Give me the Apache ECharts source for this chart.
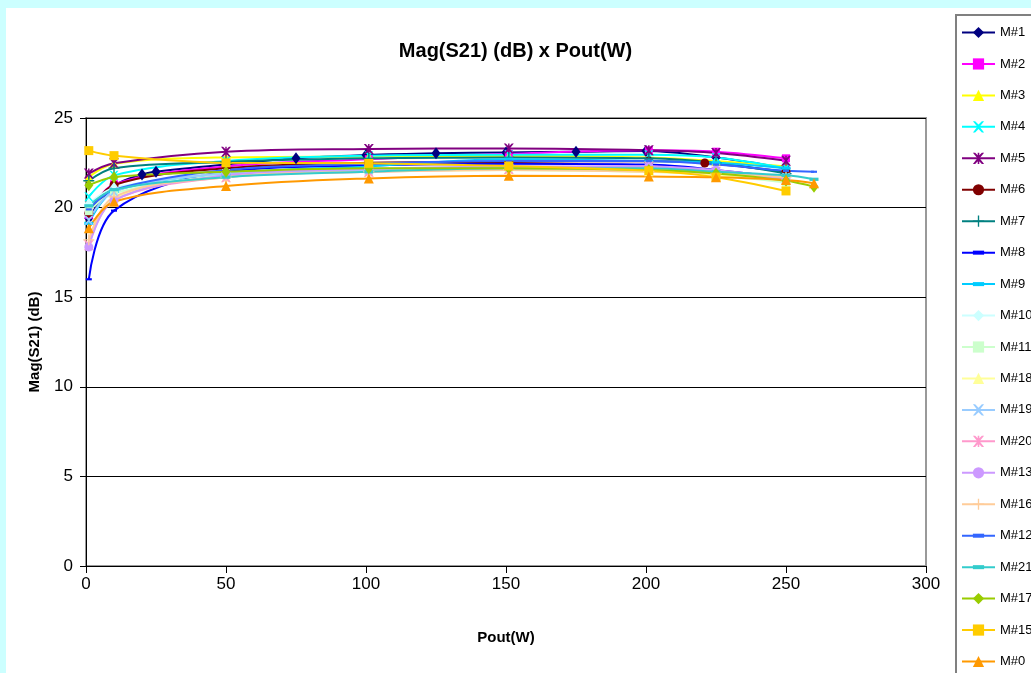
<!DOCTYPE html>
<html>
<head>
<meta charset="utf-8">
<script src="https://cdn.jsdelivr.net/npm/echarts@6/dist/echarts.min.js"></script>
<style>
  html, body { margin: 0; padding: 0; background: #ccffff; }
  #chart { width: 1031px; height: 673px; }
</style>
</head>
<body>
<div id="chart"></div>
<script>
// Output power points (W) used by the measurement sweeps
const poutStd  = [1, 10, 50, 101, 151, 201, 225, 250];
const poutM1   = [1, 10, 20, 25, 50, 75, 100, 125, 150, 175, 200, 225, 250];
const poutM6   = [1, 10, 50, 101, 151, 201, 221, 250];
const poutLong = [1, 10, 50, 101, 151, 201, 225, 250, 260];

// Gain |S21| in dB for each device
const gM1  = [19.4, 21.2, 21.85, 22.0, 22.4, 22.75, 22.93, 23.03, 23.08, 23.12, 23.16, 22.8, 22.2];
const gM2  = [19.6, 21.3, 22.3, 22.7, 23.0, 23.2, 23.12, 22.75];
const gM3  = [21.7, 22.45, 22.8, 22.85, 22.9, 22.8, 22.6, 22.3];
const gM4  = [20.6, 21.8, 22.6, 22.9, 22.95, 22.95, 22.8, 22.2];
const gM5  = [21.9, 22.47, 23.12, 23.27, 23.3, 23.2, 23.05, 22.62];
const gM6  = [19.68, 21.26, 22.2, 22.5, 22.55, 22.6, 22.49, 22.0];
const gM7  = [21.5, 22.2, 22.55, 22.75, 22.8, 22.75, 22.5, 21.9];
const gM8  = [16.0, 19.83, 22.0, 22.35, 22.45, 22.4, 22.1, 21.65];
const gM9  = [19.12, 20.9, 21.9, 22.3, 22.7, 22.6, 22.5, 22.2];
const gM10 = [20.2, 21.1, 21.9, 22.1, 22.2, 22.1, 21.9, 21.6];
const gM11 = [19.8, 20.8, 21.8, 22.05, 22.1, 22.0, 21.8, 21.4];
const gM18 = [18.0, 20.5, 21.7, 22.0, 22.1, 22.0, 21.8, 21.5];
const gM19 = [19.3, 20.9, 21.9, 22.1, 22.3, 22.2, 22.0, 21.7];
const gM20 = [17.9, 20.4, 21.7, 22.0, 22.15, 22.3, 22.0, 21.6];
const gM13 = [17.8, 20.4, 21.8, 22.15, 22.3, 22.3, 22.1, 21.6];
const gM16 = [18.2, 20.6, 21.7, 22.0, 22.1, 22.0, 21.9, 21.7];
const gM12 = [19.9, 21.0, 22.1, 22.45, 22.6, 22.6, 22.4, 22.05, 22.0];
const gM21 = [20.1, 21.0, 21.7, 22.0, 22.2, 22.2, 22.0, 21.8, 21.58];
const gM17 = [21.25, 21.7, 22.0, 22.2, 22.2, 22.1, 21.9, 21.5, 21.17];
const gM15 = [23.18, 22.9, 22.5, 22.47, 22.32, 22.06, 21.7, 20.93];
const gM0  = [18.85, 20.33, 21.2, 21.63, 21.78, 21.73, 21.69, 21.54, 21.36];

const xTicks = [0, 50, 100, 150, 200, 250, 300];
const yTicks = [0, 5, 10, 15, 20, 25];

// Marker shapes
const SYM_X    = 'path://M0,0 L2,0 L5,3 L8,0 L10,0 L6,5 L10,10 L8,10 L5,7 L2,10 L0,10 L4,5 Z';
const SYM_STAR = 'path://M0,0 L2,0 L5,3 L8,0 L10,0 L6,5 L10,10 L8,10 L5,7 L2,10 L0,10 L4,5 Z M4.3,0 L5.7,0 L5.7,10 L4.3,10 Z';
const SYM_PLUS = 'path://M4.4,0 L5.6,0 L5.6,4.4 L10,4.4 L10,5.6 L5.6,5.6 L5.6,10 L4.4,10 L4.4,5.6 L0,5.6 L0,4.4 L4.4,4.4 Z';
// a short flat bar inside a square box, so it stays flat in the legend too
const SYM_DASH = 'path://M0,0 M10,10 M0,3.2 L10,3.2 L10,6.8 L0,6.8 Z';

const defs = [
  ['M#1',  poutM1,   gM1,  '#000080', 'diamond', [9, 12]],
  ['M#2',  poutStd,  gM2,  '#ff00ff', 'rect', 8],
  ['M#3',  poutStd,  gM3,  '#ffff00', 'triangle', 9],
  ['M#4',  poutStd,  gM4,  '#00ffff', SYM_X, 9],
  ['M#5',  poutStd,  gM5,  '#800080', SYM_STAR, 10],
  ['M#6',  poutM6,   gM6,  '#800000', 'circle', 9],
  ['M#7',  poutStd,  gM7,  '#008080', SYM_PLUS, 11],
  ['M#8',  poutStd,  gM8,  '#0000ff', SYM_DASH, 6],
  ['M#9',  poutStd,  gM9,  '#00ccff', SYM_DASH, 9],
  ['M#10', poutStd,  gM10, '#ccffff', 'diamond', [9, 12]],
  ['M#11', poutStd,  gM11, '#ccffcc', 'rect', 8],
  ['M#18', poutStd,  gM18, '#ffff99', 'triangle', 9],
  ['M#19', poutStd,  gM19, '#99ccff', SYM_X, 9],
  ['M#20', poutStd,  gM20, '#ff99cc', SYM_STAR, 10],
  ['M#13', poutStd,  gM13, '#cc99ff', 'circle', 9],
  ['M#16', poutStd,  gM16, '#ffcc99', SYM_PLUS, 11],
  ['M#12', poutLong, gM12, '#3366ff', SYM_DASH, 6],
  ['M#21', poutLong, gM21, '#33cccc', SYM_DASH, 9],
  ['M#17', poutLong, gM17, '#99cc00', 'diamond', [9, 12]],
  ['M#15', poutStd,  gM15, '#ffcc00', 'rect', 9],
  ['M#0',  poutLong, gM0,  '#ff9900', 'triangle', 10]
];

const FONT = '"Liberation Sans", Arial, sans-serif';

const series = defs.map(([name, xs, ys, color, symbol, size]) => ({
  name: name,
  type: 'line',
  data: xs.map((x, i) => [x, ys[i]]),
  smooth: 0.35,
  symbol: symbol,
  symbolSize: size,
  showAllSymbol: true,
  lineStyle: { color: color, width: 2 },
  itemStyle: { color: color, borderWidth: 0 },
  emphasis: { disabled: true },
  animation: false
}));

const chart = echarts.init(document.getElementById('chart'), null, { renderer: 'canvas' });
chart.setOption({
  backgroundColor: '#ccffff',
  animation: false,
  graphic: [
    { type: 'rect', z: -10, shape: { x: 6, y: 8, width: 1100, height: 700 }, style: { fill: '#ffffff' } },
    { type: 'rect', z: -5, shape: { x: 956, y: 15, width: 120, height: 700 },
      style: { fill: '#ffffff', stroke: '#808080', lineWidth: 2 } }
  ],
  title: {
    text: 'Mag(S21) (dB) x Pout(W)',
    left: 'center',
    top: 36,
    textStyle: { fontFamily: FONT, fontSize: 20, fontWeight: 'bold', color: '#000' }
  },
  legend: {
    orient: 'vertical',
    left: 961,
    top: 26,
    height: 800,
    padding: 0,
    itemWidth: 33,
    itemHeight: 14,
    itemGap: 18.45,
    textStyle: { fontFamily: FONT, fontSize: 13, color: '#000' },
    data: defs.map(d => d[0])
  },
  grid: {
    left: 86, top: 118, right: 105, bottom: 107,
    show: true, borderColor: '#999999', borderWidth: 2, backgroundColor: '#ffffff'
  },
  xAxis: {
    type: 'value',
    min: xTicks[0], max: xTicks[xTicks.length - 1], interval: 50,
    name: 'Pout(W)',
    nameLocation: 'middle',
    nameGap: 64,
    nameTextStyle: { fontFamily: FONT, fontSize: 15, fontWeight: 'bold', color: '#000' },
    axisLine: { lineStyle: { color: '#000', width: 1 } },
    axisTick: { show: true, length: 7, lineStyle: { color: '#000' } },
    axisLabel: { fontFamily: FONT, fontSize: 17, color: '#000', margin: 10 },
    splitLine: { show: false }
  },
  yAxis: {
    type: 'value',
    min: yTicks[0], max: yTicks[yTicks.length - 1], interval: 5,
    name: 'Mag(S21) (dB)',
    nameLocation: 'middle',
    nameGap: 44,
    nameTextStyle: { fontFamily: FONT, fontSize: 15, fontWeight: 'bold', color: '#000' },
    axisLine: { show: true, lineStyle: { color: '#000', width: 1 } },
    axisTick: { show: true, length: 6, lineStyle: { color: '#000' } },
    axisLabel: { fontFamily: FONT, fontSize: 17, color: '#000', margin: 13 },
    splitLine: { show: true, lineStyle: { color: '#000', width: 1 } }
  },
  series: series
});
</script>
</body>
</html>
